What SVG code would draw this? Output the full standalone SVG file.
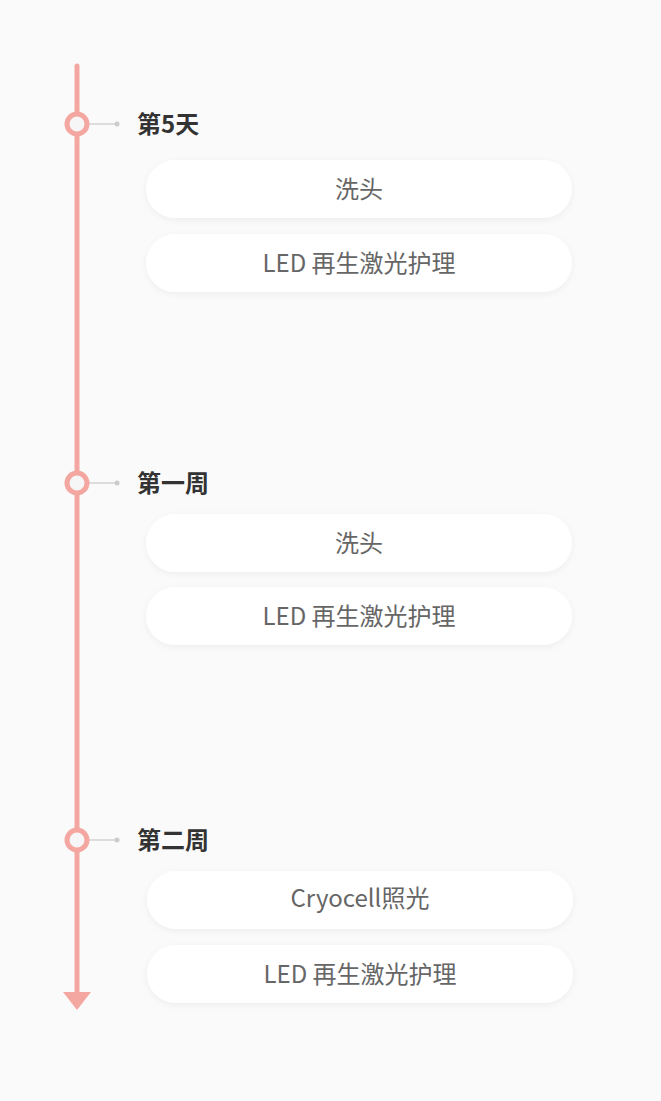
<svg xmlns="http://www.w3.org/2000/svg" width="661" height="1101" viewBox="0 0 661 1101">
<defs>
<filter id="sh" x="-10%" y="-30%" width="120%" height="160%"><feDropShadow dx="0" dy="2" stdDeviation="3" flood-color="#000" flood-opacity="0.05"/></filter>
<style>
.box{fill:#fff;filter:url(#sh)}
.t{font-family:"Noto Sans CJK SC","Noto Sans",sans-serif;font-size:24px;fill:#666;text-anchor:middle}
.h{font-family:"Noto Sans CJK SC","Noto Sans",sans-serif;font-size:24px;font-weight:bold;fill:#333}
.dot{fill:#f6f6f6;stroke:#f4a7a0;stroke-width:5}
.cl{stroke:#ddd;stroke-width:2}
</style>
</defs>
<rect width="661" height="1101" fill="#fafafa"/>
<g id="connectors">
<line x1="77" y1="66" x2="77" y2="994" stroke="#f4a7a0" stroke-width="5" stroke-linecap="round"/>
<polygon points="63,992 91,992 77,1010" fill="#f4a7a0"/>
<line class="cl" x1="88" y1="124" x2="117" y2="124"/><circle cx="117" cy="124" r="2.5" fill="#ccc"/>
<line class="cl" x1="88" y1="483" x2="117" y2="483"/><circle cx="117" cy="483" r="2.5" fill="#ccc"/>
<line class="cl" x1="88" y1="840" x2="117" y2="840"/><circle cx="117" cy="840" r="2.5" fill="#ccc"/>
</g>
<g id="day5">
<circle class="dot" cx="77" cy="124" r="10"/>
<text class="h" x="137" y="133">第5天</text>
<rect class="box" x="146" y="160" width="426" height="58" rx="29"/><text class="t" x="359" y="198">洗头</text>
<rect class="box" x="146" y="234" width="426" height="58" rx="29"/><text class="t" x="359" y="272">LED 再生激光护理</text>
</g>
<g id="week1">
<circle class="dot" cx="77" cy="483" r="10"/>
<text class="h" x="137" y="492">第一周</text>
<rect class="box" x="146" y="514" width="426" height="58" rx="29"/><text class="t" x="359" y="552">洗头</text>
<rect class="box" x="146" y="587" width="426" height="58" rx="29"/><text class="t" x="359" y="625">LED 再生激光护理</text>
</g>
<g id="week2">
<circle class="dot" cx="77" cy="840" r="10"/>
<text class="h" x="137" y="849">第二周</text>
<rect class="box" x="147" y="871" width="426" height="58" rx="29"/><text class="t" x="360" y="907">Cryocell照光</text>
<rect class="box" x="147" y="945" width="426" height="58" rx="29"/><text class="t" x="360" y="983">LED 再生激光护理</text>
</g>
</svg>
